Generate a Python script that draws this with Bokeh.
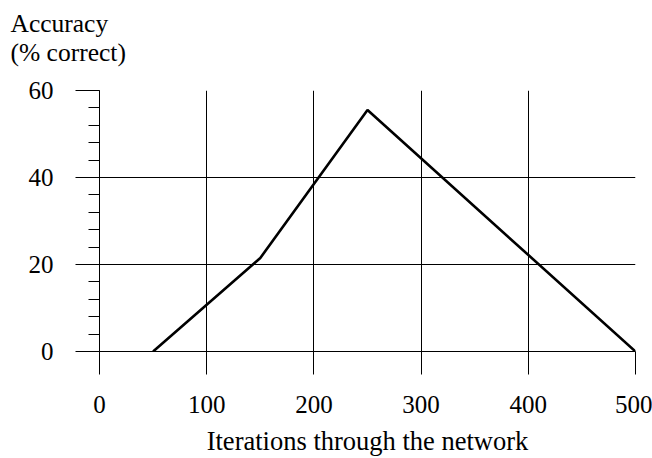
from bokeh.plotting import figure
from bokeh.models import Range1d, SingleIntervalTicker, Title
from bokeh.embed import file_html
from bokeh.resources import INLINE

# Data
iterations = [50, 150, 250, 500]
accuracy = [0, 21.5, 55.5, 0]

x_ticks_interval = 100
y_ticks_interval = 20

FONT = "Liberation Serif"

p = figure(width=652, height=458, output_backend="svg", toolbar_location=None,
           x_range=Range1d(0, 500), y_range=Range1d(0, 60),
           min_border_left=99, min_border_right=17, min_border_top=90, min_border_bottom=106,
           title="Accuracy\n(% correct)")

p.line(iterations, accuracy, line_color="black", line_width=2.6)

p.outline_line_color = None
p.background_fill_color = "white"
p.border_fill_color = "white"

# title (y-axis caption, top-left)
p.title.text_font = FONT
p.title.text_font_size = "25.5px"
p.title.text_font_style = "normal"
p.title.text_color = "black"
p.title.align = "left"
p.title.vertical_align = "bottom"
p.title.offset = -89
p.title.standoff = 10

# empty spacer between caption and frame
p.add_layout(Title(text=" ", text_font_size="16px", standoff=0), "above")

# axes
p.xaxis.ticker = SingleIntervalTicker(interval=x_ticks_interval, num_minor_ticks=0)
p.yaxis.ticker = SingleIntervalTicker(interval=y_ticks_interval, num_minor_ticks=5)

for ax in (p.xaxis[0], p.yaxis[0]):
    ax.axis_line_color = "black"
    ax.axis_line_width = 1
    ax.major_tick_line_color = "black"
    ax.minor_tick_line_color = "black"
    ax.major_tick_in = 0
    ax.minor_tick_in = 0
    ax.major_label_text_font = FONT
    ax.major_label_text_font_size = "25px"
    ax.major_label_text_color = "black"

p.xaxis.major_tick_out = 23
p.xaxis.minor_tick_out = 0
p.xaxis.major_label_standoff = 21
p.xaxis.axis_label = "Iterations through the network"
p.xaxis.axis_label_text_font = FONT
p.xaxis.axis_label_text_font_size = "26.5px"
p.xaxis.axis_label_text_font_style = "normal"
p.xaxis.axis_label_text_color = "black"
p.xaxis.axis_label_standoff = 10

p.yaxis.major_tick_out = 24
p.yaxis.minor_tick_out = 11
p.yaxis.major_label_standoff = 22

# grid
p.xgrid.grid_line_color = "black"
p.ygrid.grid_line_color = "black"
p.xgrid.grid_line_width = 1
p.ygrid.grid_line_width = 1
p.xgrid.ticker = p.xaxis.ticker
p.ygrid.ticker = p.yaxis.ticker

open("out.html", "w").write(file_html(p, INLINE))
